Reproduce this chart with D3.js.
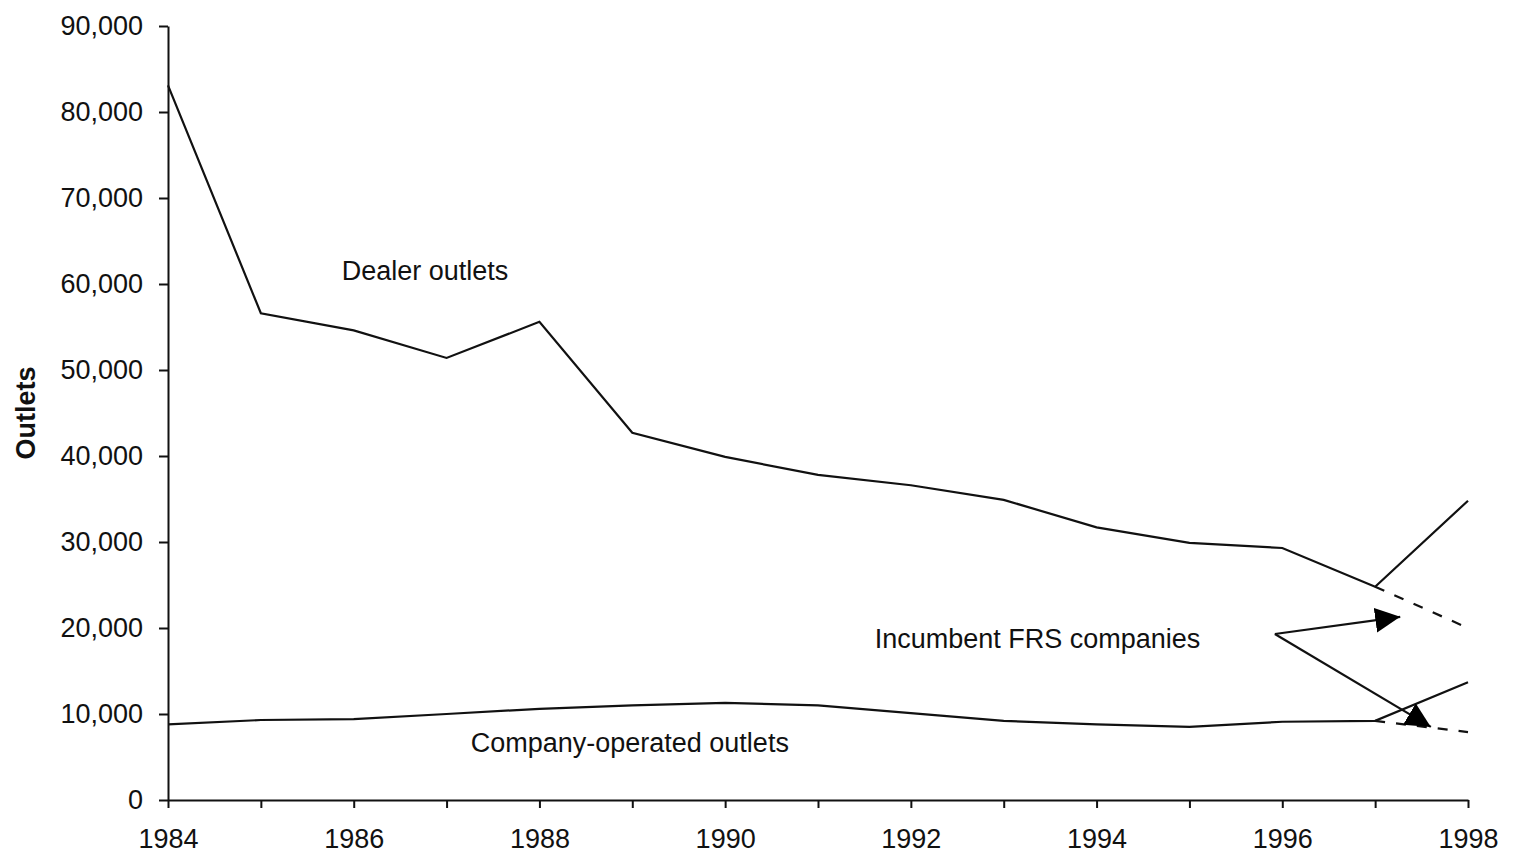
<!DOCTYPE html>
<html lang="en">
<head>
    <meta charset="UTF-8">
    <title>Dealer and company-operated outlets</title>
    <script src="https://d3js.org/d3.v7.min.js"></script>
    <style>
        body { margin: 0; background: #fff; }
        text { font-family: "Liberation Sans", Arial, sans-serif; fill: #111; }
        .line { fill: none; stroke: #111; stroke-width: 2.2px; }
        .dash { stroke-dasharray: 10, 11; }
        .axis path, .axis line { stroke: #111; stroke-width: 2px; }
    </style>
</head>
<body>
    <svg id="svg" width="1517" height="857"></svg>
    <script>
        // values
        const years = [1984, 1985, 1986, 1987, 1988, 1989, 1990, 1991, 1992, 1993, 1994, 1995, 1996, 1997];
        const dealer = [83100, 56600, 54600, 51400, 55600, 42700, 39900, 37800, 36600, 34900, 31700, 29900, 29300, 24800];
        const company = [8800, 9300, 9400, 10000, 10600, 11000, 11300, 11000, 10100, 9200, 8800, 8500, 9100, 9200];

        // 1998: total (solid) vs incumbent FRS companies (dashed)
        const lastYear = 1998;
        const dealerTotal1998 = 34800;
        const dealerIncumbent1998 = 20000;
        const companyTotal1998 = 13700;
        const companyIncumbent1998 = 7900;

        const yTicks = [0, 10000, 20000, 30000, 40000, 50000, 60000, 70000, 80000, 90000];
        const xTickLabels = [1984, 1986, 1988, 1990, 1992, 1994, 1996, 1998];

        const svg = d3.select("#svg");

        const x = d3.scaleLinear().domain([1984, 1998]).range([168, 1468]);
        const y = d3.scaleLinear().domain([0, 90000]).range([800, 26]);

        const line = d3.line().x(d => x(d[0])).y(d => y(d[1]));

        // axes
        const xAxis = d3.axisBottom(x)
            .tickValues(d3.range(1984, 1999))
            .tickSize(8)
            .tickSizeOuter(0)
            .tickFormat(d => xTickLabels.includes(d) ? d : "");
        svg.append("g").attr("class", "axis")
            .attr("transform", `translate(0,${y(0)})`)
            .call(xAxis)
            .call(g => g.selectAll("text").attr("font-size", 27).attr("dy", "1.38em"));

        const yAxis = d3.axisLeft(y)
            .tickValues(yTicks)
            .tickSize(9)
            .tickSizeOuter(0)
            .tickFormat(d3.format(","));
        svg.append("g").attr("class", "axis")
            .attr("transform", `translate(${x(1984)},0)`)
            .call(yAxis)
            .call(g => g.selectAll("text").attr("font-size", 27).attr("x", -25));

        svg.selectAll(".axis text").style("font-family", "'Liberation Sans', Arial, sans-serif").attr("fill", "#111");

        svg.append("text")
            .attr("transform", `translate(35,${(y(0) + y(90000)) / 2}) rotate(-90)`)
            .attr("text-anchor", "middle")
            .attr("font-size", 27)
            .attr("font-weight", "bold")
            .text("Outlets");

        // series
        const dealerPts = years.map((yr, i) => [yr, dealer[i]]);
        const companyPts = years.map((yr, i) => [yr, company[i]]);
        const n = years.length - 1;

        svg.append("path").attr("class", "line")
            .attr("d", line(dealerPts.concat([[lastYear, dealerTotal1998]])));
        svg.append("path").attr("class", "line dash")
            .attr("d", line([dealerPts[n], [lastYear, dealerIncumbent1998]]));

        svg.append("path").attr("class", "line")
            .attr("d", line(companyPts.concat([[lastYear, companyTotal1998]])));
        svg.append("path").attr("class", "line dash")
            .attr("d", line([companyPts[n], [lastYear, companyIncumbent1998]]));

        // arrow marker
        svg.append("defs").append("marker")
            .attr("id", "arrow")
            .attr("viewBox", "0 0 10 10")
            .attr("refX", 10).attr("refY", 5)
            .attr("markerWidth", 25).attr("markerHeight", 25)
            .attr("markerUnits", "userSpaceOnUse")
            .attr("orient", "auto")
            .append("path")
            .attr("d", "M0,0 L10,5 L0,10 Z")
            .attr("fill", "#000");

        // annotation labels and arrows
        svg.append("text").attr("x", x(1985.87)).attr("y", y(60450))
            .attr("font-size", 27).text("Dealer outlets");
        svg.append("text").attr("x", x(1991.61)).attr("y", y(17650))
            .attr("font-size", 27).text("Incumbent FRS companies");
        svg.append("text").attr("x", x(1987.26)).attr("y", y(5580))
            .attr("font-size", 27).text("Company-operated outlets");

        const arrowStart = [1995.92, 19300];
        const arrowEnds = [[1997.27, 21300], [1997.6, 8500]];
        arrowEnds.forEach(end => {
            svg.append("line").attr("class", "line")
                .attr("x1", x(arrowStart[0])).attr("y1", y(arrowStart[1]))
                .attr("x2", x(end[0])).attr("y2", y(end[1]))
                .attr("marker-end", "url(#arrow)");
        });
    </script>
</body>
</html>
